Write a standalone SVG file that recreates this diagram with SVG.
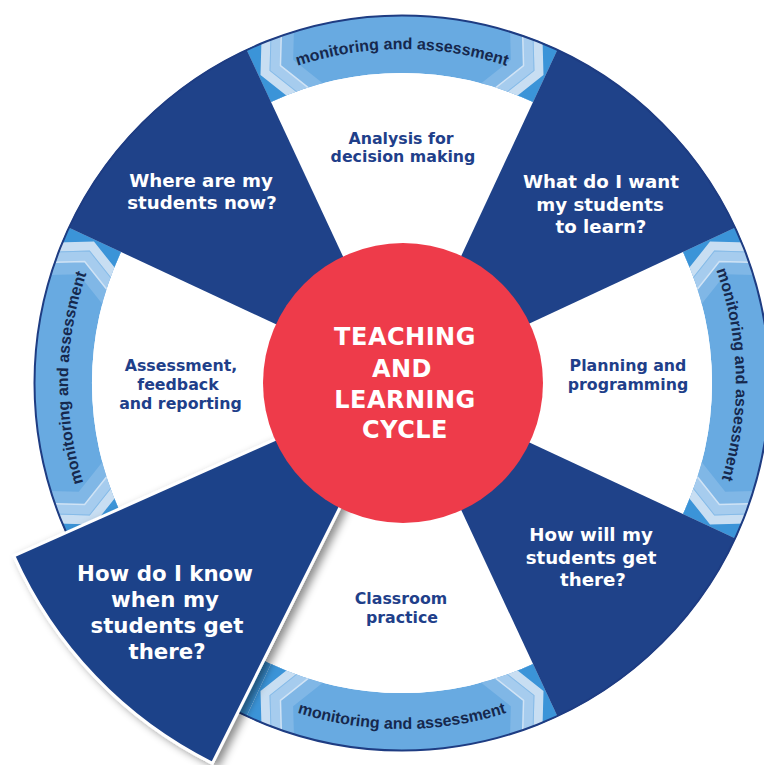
<svg xmlns="http://www.w3.org/2000/svg" xmlns:xlink="http://www.w3.org/1999/xlink" width="764" height="765" viewBox="0 0 764 765">
<style>
.blue{fill:#1f4289}
.w{fill:#ffffff;font-family:"DejaVu Sans","Liberation Sans",sans-serif;font-weight:bold;text-anchor:middle}
.w18{font-size:18.2px}
.w21{font-size:21.3px}
.d{fill:#1f3f8a;font-family:"DejaVu Sans","Liberation Sans",sans-serif;font-weight:bold;font-size:15.8px;text-anchor:middle}
.c{fill:#ffffff;font-family:"DejaVu Sans","Liberation Sans",sans-serif;font-weight:bold;font-size:24px;letter-spacing:0.5px;text-anchor:middle}
.m{fill:#16284d;font-family:"Liberation Sans","DejaVu Sans",sans-serif;font-weight:bold;font-size:16px;text-anchor:middle}
</style>
<defs>
<clipPath id="bandClip" clipPathUnits="userSpaceOnUse">
<path d="M246.5,49.5 A368,368 0 0 1 557.5,49.5 L533,102 A310,310 0 0 0 271,102 Z"/>
</clipPath>
<g id="chev">
<polygon points="-10,-36 56,-36 38,0 56,36 -10,36" fill="#80b7e6"/>
<polygon points="-10,-36 42,-36 24,0 42,36 -10,36" fill="#a6ccee"/>
<polyline points="42,-36 24,0 42,36" fill="none" stroke="#d0e3f5" stroke-width="1.5"/>
<polygon points="-10,-36 30,-36 12,0 30,36 -10,36" fill="#c8def2"/>
<polyline points="30.5,-36 12.5,0 30.5,36" fill="none" stroke="#86bbe8" stroke-width="1"/>
<polygon points="-10,-36 20,-36 2,0 20,36 -10,36" fill="#3b94d8"/>
</g>
<g id="bandShape">
<g clip-path="url(#bandClip)">
<path d="M246.5,49.5 A368,368 0 0 1 557.5,49.5 L533,102 A310,310 0 0 0 271,102 Z" fill="#68aae1"/>
<use xlink:href="#chev" href="#chev" transform="translate(258.7,75.8) rotate(-25)"/>
<use xlink:href="#chev" href="#chev" transform="translate(545.3,75.8) rotate(25) scale(-1,1)"/>
</g>
</g>
<path id="arcTop" d="M112.8,216 A334,334 0 0 1 691.2,216"/>
<path id="arcBottom" d="M102.4,556 A346,346 0 0 0 701.6,556"/>
<filter id="shadow" x="-20%" y="-20%" width="140%" height="140%">
<feDropShadow dx="5" dy="3" stdDeviation="4" flood-color="#000000" flood-opacity="0.45"/>
</filter>
</defs>

<rect x="0" y="0" width="764" height="765" fill="#ffffff"/>

<!-- monitoring and assessment bands -->
<path d="M258.2,721.7 A368,368 0 0 1 229.2,707.9 L256.5,656.7 A310,310 0 0 0 280.9,668.4 Z" fill="#3b94d8"/>
<g id="band-top">
<use xlink:href="#bandShape" href="#bandShape"/>
<text class="m"><textPath xlink:href="#arcTop" href="#arcTop" startOffset="50%">monitoring and assessment</textPath></text>
</g>
<g id="band-right">
<use xlink:href="#bandShape" href="#bandShape" transform="rotate(90 402 383)"/>
<g transform="rotate(88.5 402 383)">
<text class="m"><textPath xlink:href="#arcTop" href="#arcTop" startOffset="50%">monitoring and assessment</textPath></text>
</g>
</g>
<g id="band-bottom">
<use xlink:href="#bandShape" href="#bandShape" transform="rotate(180 402 383)"/>
<text class="m"><textPath xlink:href="#arcBottom" href="#arcBottom" startOffset="50%">monitoring and assessment</textPath></text>
</g>
<g id="band-left">
<use xlink:href="#bandShape" href="#bandShape" transform="rotate(270 402 383)"/>
<g transform="rotate(-89.1 402 383)">
<text class="m"><textPath xlink:href="#arcTop" href="#arcTop" startOffset="50%">monitoring and assessment</textPath></text>
</g>
</g>

<!-- white sectors labels -->
<g id="analysis">
<text class="d" x="401" y="143.5">Analysis for</text>
<text class="d" x="403" y="162">decision making</text>
</g>
<g id="planning">
<text class="d" x="628" y="371">Planning and</text>
<text class="d" x="628" y="390">programming</text>
</g>
<g id="classroom">
<text class="d" x="401" y="604">Classroom</text>
<text class="d" x="402" y="623">practice</text>
</g>
<g id="assessment">
<text class="d" x="181" y="371">Assessment,</text>
<text class="d" x="178" y="390">feedback</text>
<text class="d" x="180.5" y="408.5">and reporting</text>
</g>

<!-- blue sectors -->
<g id="where">
<path class="blue" d="M402,383 L68.5,227.5 A368,368 0 0 1 246.5,49.5 Z"/>
<text class="w w18" x="201" y="187">Where are my</text>
<text class="w w18" x="202" y="208.5">students now?</text>
</g>
<g id="what">
<path class="blue" d="M402,383 L557.5,49.5 A368,368 0 0 1 735.5,227.5 Z"/>
<text class="w w18" x="601" y="188">What do I want</text>
<text class="w w18" x="600" y="210.5">my students</text>
<text class="w w18" x="601" y="233">to learn?</text>
</g>
<g id="how-will">
<path class="blue" d="M402,383 L735.5,538.5 A368,368 0 0 1 557.5,716.5 Z"/>
<text class="w w18" x="591" y="541">How will my</text>
<text class="w w18" x="591" y="564">students get</text>
<text class="w w18" x="593" y="586">there?</text>
</g>

<circle cx="402" cy="383" r="367.5" fill="none" stroke="#1e3c82" stroke-width="2"/>

<g id="how-know">
<path class="blue" d="M402,383 L13.8,555.9 A425,425 0 0 0 212.4,763.3 Z" stroke="#ffffff" stroke-width="3" stroke-linejoin="miter" filter="url(#shadow)"/>
<text class="w w21" x="165" y="581">How do I know</text>
<text class="w w21" x="165" y="607">when my</text>
<text class="w w21" x="167" y="633">students get</text>
<text class="w w21" x="167" y="659">there?</text>
</g>

<g id="center">
<circle cx="403" cy="383" r="140" fill="#ee3b4a"/>
<text class="c" x="405" y="345">TEACHING</text>
<text class="c" x="402" y="376.7">AND</text>
<text class="c" x="405" y="407.7">LEARNING</text>
<text class="c" x="405" y="438.3">CYCLE</text>
</g>

<g id="connectors"></g>
</svg>
